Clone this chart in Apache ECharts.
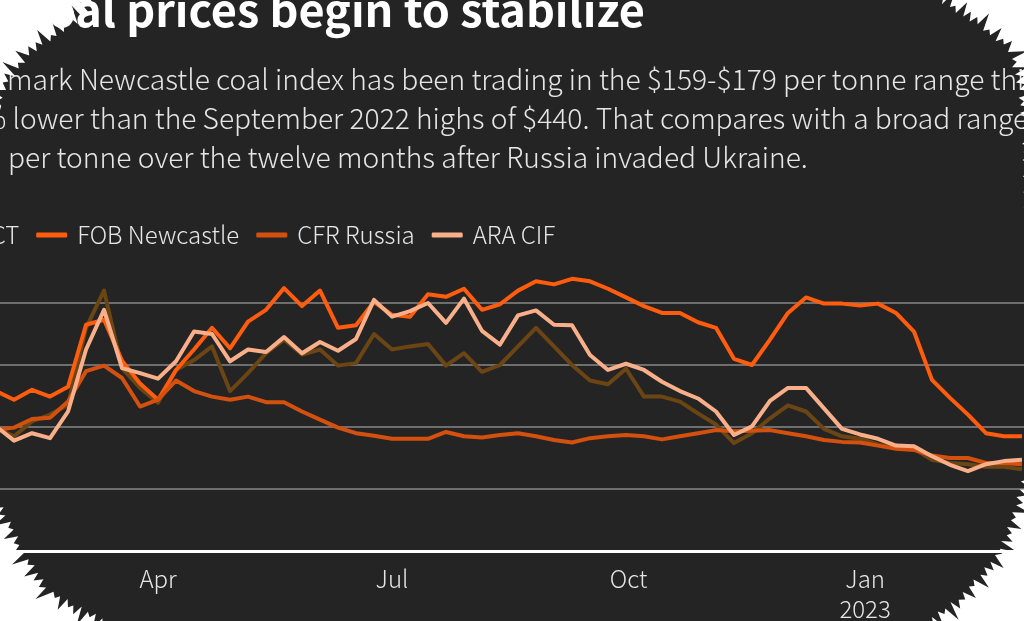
<!DOCTYPE html>
<html>
<head>
<meta charset="utf-8">
<script src="https://cdn.jsdelivr.net/npm/echarts@6/dist/echarts.min.js"></script>
<style>
  html, body { margin: 0; padding: 0; background: #242424; }
  #chart { width: 1024px; height: 621px; }
</style>
</head>
<body>
<div id="chart"></div>
<script>
// weekly prices, USD per tonne
const dates = [
  '2022-01-28', '2022-02-04', '2022-02-11', '2022-02-18', '2022-02-25',
  '2022-03-04', '2022-03-11', '2022-03-18', '2022-03-25', '2022-04-01',
  '2022-04-08', '2022-04-15', '2022-04-22', '2022-04-29', '2022-05-06',
  '2022-05-13', '2022-05-20', '2022-05-27', '2022-06-03', '2022-06-10',
  '2022-06-17', '2022-06-24', '2022-07-01', '2022-07-08', '2022-07-15',
  '2022-07-22', '2022-07-29', '2022-08-05', '2022-08-12', '2022-08-19',
  '2022-08-26', '2022-09-02', '2022-09-09', '2022-09-16', '2022-09-23',
  '2022-09-30', '2022-10-07', '2022-10-14', '2022-10-21', '2022-10-28',
  '2022-11-04', '2022-11-11', '2022-11-18', '2022-11-25', '2022-12-02',
  '2022-12-09', '2022-12-16', '2022-12-23', '2022-12-30', '2023-01-06',
  '2023-01-13', '2023-01-20', '2023-01-27', '2023-02-03', '2023-02-10',
  '2023-02-17', '2023-02-24', '2023-03-03'
];

const fobRBCT = [
  198, 185, 209, 220, 236, 360, 420, 295, 263, 239,
  292, 308, 330, 258, 287, 319, 341, 317, 325, 299,
  303, 350, 325, 330, 334, 299, 319, 289, 300, 330,
  360, 330, 300, 275, 269, 294, 249, 249, 241, 222,
  204, 174, 190, 214, 235, 225, 197, 185, 181, 172,
  166, 165, 147, 142, 140, 136, 136, 132
];

const fobNewcastle = [
  258, 244, 260, 249, 265, 365, 373, 307, 270, 244,
  292, 325, 360, 327, 370, 389, 424, 395, 420, 360,
  364, 402, 381, 378, 414, 410, 423, 389, 398, 420,
  435, 430, 439, 435, 423, 409, 395, 384, 384, 369,
  360, 310, 300, 341, 384, 409, 399, 399, 396, 399,
  384, 354, 276, 247, 220, 190, 185, 185
];

const cfrRussia = [
  195, 199, 213, 215, 241, 290, 299, 279, 233, 244,
  275, 258, 249, 244, 249, 240, 240, 225, 212, 199,
  190, 186, 181, 181, 181, 192, 185, 183, 187, 190,
  185, 179, 175, 182, 185, 187, 185, 180, 185, 190,
  195, 193, 194, 195, 190, 185, 179, 176, 175, 170,
  165, 163, 154, 150, 150, 142, 142, 140
];

const araCIF = [
  201, 178, 190, 182, 225, 325, 389, 295, 287, 278,
  306, 354, 350, 306, 325, 321, 345, 319, 337, 323,
  342, 405, 378, 387, 400, 368, 407, 355, 333, 380,
  388, 365, 364, 316, 292, 302, 292, 273, 258, 246,
  225, 187, 201, 242, 263, 263, 230, 197, 188, 181,
  170, 169, 153, 139, 129, 140, 145, 147
];

const seriesNames = ['FOB RBCT', 'FOB Newcastle', 'CFR Russia', 'ARA CIF'];
const seriesColors = ['#6b4513', '#ff5c0d', '#d4500e', '#f9b08a'];

const tickDates = ['2022-04-01', '2022-07-01', '2022-10-01', '2023-01-01'];
const tickLabels = ['Apr', 'Jul', 'Oct', 'Jan\n2023'];

const titleText = 'Coal prices begin to stabilize';
const subtitleLines = [
  'mark Newcastle coal index has been trading in the $159-$179 per tonne range this year',
  '% lower than the September 2022 highs of $440. That compares with a broad range of',
  'per tonne over the twelve months after Russia invaded Ukraine.'
];

const FONT = "'Noto Sans CJK SC', 'Source Sans Pro', sans-serif";
const BG = '#242424';

// torn-paper edges (decoration only): screen corner + outer edge of the dark brush
const tornEdges = [
  { corner: [0, 0], path: [[100, 0], [88, 18], [64, 32], [30, 56], [6, 90], [0, 110]] },
  { corner: [1024, 0], path: [[1024, 240], [1022, 140], [1018, 90], [1008, 52], [980, 28], [935, 0]] },
  { corner: [0, 621], path: [[110, 621], [50, 590], [26, 551], [20, 540], [0, 500]] },
  { corner: [1024, 621], path: [[925, 621], [960, 595], [995, 555], [1010, 520], [1024, 470]] }
];
const spikeDepths = [0, 9, 1, 15, 0, 6, 2, 19, 0, 11, 3, 7, 0, 14, 1, 5, 0, 17, 2, 8];

// dark brush strokes bite into the white corner
function jagged(edge) {
  const c = edge.corner;
  const pts = [c];
  let k = 0;
  for (let s = 0; s < edge.path.length - 1; s++) {
    const [x0, y0] = edge.path[s];
    const [x1, y1] = edge.path[s + 1];
    const len = Math.hypot(x1 - x0, y1 - y0);
    let nx = -(y1 - y0) / len, ny = (x1 - x0) / len;
    if (nx * (c[0] - x0) + ny * (c[1] - y0) < 0) { nx = -nx; ny = -ny; }
    const steps = Math.max(1, Math.round(len / 4));
    for (let j = 0; j < steps; j++) {
      const t = j / steps;
      const d = spikeDepths[k++ % spikeDepths.length];
      pts.push([x0 + (x1 - x0) * t + nx * d, y0 + (y1 - y0) * t + ny * d]);
    }
  }
  pts.push(edge.path[edge.path.length - 1]);
  return pts;
}

const ts = (d) => +echarts.time.parse(d);

const chart = echarts.init(document.getElementById('chart'));

const series = seriesNames.map((name, k) => {
  const vals = [fobRBCT, fobNewcastle, cfrRussia, araCIF][k];
  return {
    name, type: 'line',
    data: dates.map((d, i) => [ts(d), vals[i]]),
    showSymbol: false, symbol: 'none',
    lineStyle: { width: 4, color: seriesColors[k], join: 'round' },
    itemStyle: { color: seriesColors[k] },
    emphasis: { disabled: true },
    z: 2 + k
  };
});

const graphics = [
  {
    type: 'text', x: 645, y: 10, z: 50,
    style: {
      text: titleText, fill: '#ffffff', font: 'bold 45px ' + FONT,
      align: 'right', verticalAlign: 'middle'
    }
  }
];
subtitleLines.forEach((line, i) => {
  graphics.push({
    type: 'text', x: [7, -19, 8][i], y: 79 + i * 39, z: 50,
    style: {
      text: line, fill: '#e6e6e6', font: '300 28.2px ' + FONT,
      align: 'left', verticalAlign: 'middle'
    }
  });
});
tornEdges.forEach((edge) => {
  graphics.push({
    type: 'polygon', z: 100,
    shape: { points: jagged(edge) },
    style: { fill: '#ffffff' }
  });
});

const tickValues = tickDates.map(ts);

chart.setOption({
  backgroundColor: BG,
  animation: false,
  textStyle: { fontFamily: FONT },
  legend: {
    data: seriesNames,
    left: -131, top: 223, padding: 0,
    itemGap: 17, itemWidth: 31, itemHeight: 5,
    icon: 'roundRect',
    textStyle: { color: '#e6e6e6', fontSize: 24, fontWeight: 300, fontFamily: FONT, padding: [0, 0, 0, 5] },
    selectedMode: false
  },
  grid: { left: 0, right: 0, top: 272, bottom: 70, outerBoundsMode: 'none', containLabel: false },
  xAxis: {
    type: 'value',
    min: ts('2022-01-29 13:00'),
    max: ts('2023-03-03 19:00'),
    axisLine: { show: true, lineStyle: { color: '#ffffff', width: 3 } },
    axisTick: { show: false },
    splitLine: { show: false },
    axisLabel: {
      customValues: tickValues,
      formatter: (v) => {
        const idx = tickValues.indexOf(v);
        return idx >= 0 ? tickLabels[idx] : '';
      },
      color: '#e6e6e6', fontSize: 24, fontWeight: 300, fontFamily: FONT,
      lineHeight: 30, margin: 13
    }
  },
  yAxis: {
    type: 'value', min: 0, max: 450, interval: 100,
    axisLabel: { show: false },
    axisLine: { show: false },
    axisTick: { show: false },
    splitLine: { show: true, showMinLine: false, showMaxLine: false, lineStyle: { color: '#6e6e6e', width: 2 } }
  },
  series,
  graphic: graphics
});
</script>
</body>
</html>
